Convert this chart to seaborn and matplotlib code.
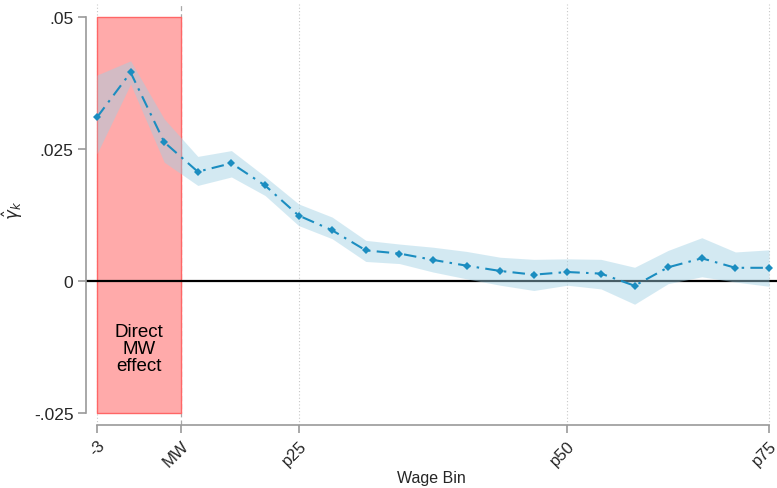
import numpy as np
import pandas as pd
import matplotlib
matplotlib.use("Agg")
import matplotlib.pyplot as plt
import seaborn as sns

# ---- data ----
bins = list(range(-3, 18))
coef = [0.0310, 0.0395, 0.0263, 0.0207, 0.0223, 0.0181, 0.0124, 0.0096, 0.0058, 0.0052,
        0.0040, 0.0029, 0.0019, 0.0012, 0.0017, 0.0014, -0.0009, 0.0026, 0.0043, 0.0025, 0.0025]
ci_upper = [0.0390, 0.0417, 0.0307, 0.0236, 0.0247, 0.0198, 0.0146, 0.0121, 0.0077, 0.0070,
            0.0064, 0.0056, 0.0045, 0.0041, 0.0042, 0.0041, 0.0026, 0.0058, 0.0082, 0.0055, 0.0059]
ci_lower = [0.0241, 0.0373, 0.0225, 0.0181, 0.0197, 0.0162, 0.0105, 0.0080, 0.0037, 0.0033,
            0.0017, 0.0004, -0.0008, -0.0018, -0.0008, -0.0015, -0.0044, -0.0005, 0.0008, -0.0002, -0.0010]
xtick_pos = [-3, -0.5, 3, 11, 17]
xtick_labels = ["-3", "MW", "p25", "p50", "p75"]
ytick_pos = [-0.025, 0, 0.025, 0.05]
ytick_labels = ["-.025", "0", ".025", ".05"]
mw_edge = -0.5
box_label = "Direct\nMW\neffect"

df = pd.DataFrame({"bin": bins, "coef": coef, "lo": ci_lower, "hi": ci_upper})

sns.set_style("white")
plt.rcParams["font.family"] = ["Liberation Sans", "DejaVu Sans"]
plt.rcParams["mathtext.fontset"] = "dejavusans"

fig = plt.figure(figsize=(7.77, 4.89), dpi=100)
ax = fig.add_axes([86 / 777, 1 - 426 / 489, 1 - 86 / 777, (426 - 5) / 489])

px = 0.075 / 396.0
ax.set_ylim(-0.025 - 12 * px, 0.05 + 13 * px)
ax.set_xlim(-3 - 11 / 33.6, 17 + 8 / 33.6)

# grid lines at x ticks
for xp in xtick_pos:
    if xp == mw_edge:
        ax.axvline(xp, color="#a8a8a8", lw=0.9, ls=(0, (4, 2.5)), zorder=0.5)
    else:
        ax.axvline(xp, color="#c8c8c8", lw=0.8, ls=(0, (1, 2)), zorder=0.5)

# Direct MW effect box
ax.fill_between([bins[0], mw_edge], -0.025, 0.05, facecolor="#ffaaaa",
                edgecolor="#ff6666", lw=1.0, zorder=1)
ax.text((bins[0] + mw_edge) / 2, -0.0128, box_label, ha="center", va="center",
        fontsize=13.5, linespacing=1.0, color="black", zorder=5)

# zero line
ax.axhline(0, color="black", lw=1.6, zorder=2)

# confidence band
ax.fill_between(df["bin"], df["lo"], df["hi"], color="#9fd0e4", alpha=0.45, lw=0, zorder=3)

# point estimates
sns.lineplot(data=df, x="bin", y="coef", ax=ax, color="#1b8dc0", lw=1.5,
             marker="D", markersize=3.8, markeredgewidth=0, zorder=4)
ax.lines[-1].set_linestyle((0, (6, 3, 1.2, 3)))
ax.lines[-1].set_clip_on(False)

# ticks / spines
ax.set_xticks(xtick_pos)
ax.set_xticklabels(xtick_labels, rotation=45, ha="right", rotation_mode="anchor", fontsize=12)
ax.set_yticks(ytick_pos)
ax.set_yticklabels(ytick_labels, fontsize=12.5)
ax.tick_params(axis="both", length=6, width=1.2, color="#9a9a9a", direction="out",
               bottom=True, left=True)
ax.tick_params(axis="x", pad=3)
ax.tick_params(axis="y", pad=3)
for s in ["top", "right"]:
    ax.spines[s].set_visible(False)
for s in ["left", "bottom"]:
    ax.spines[s].set_color("#9a9a9a")
    ax.spines[s].set_linewidth(1.2)
ax.spines["left"].set_bounds(-0.025, 0.05)
ax.spines["bottom"].set_bounds(-3, 17)

ax.set_xlabel("Wage Bin", fontsize=11.5)
ax.xaxis.set_label_coords(0.5, -0.108)
ax.set_ylabel(r"$\hat{\gamma}_k$", fontsize=12)
ax.yaxis.set_label_coords(-0.088, 0.513)

fig.savefig("out.png", dpi=100)
